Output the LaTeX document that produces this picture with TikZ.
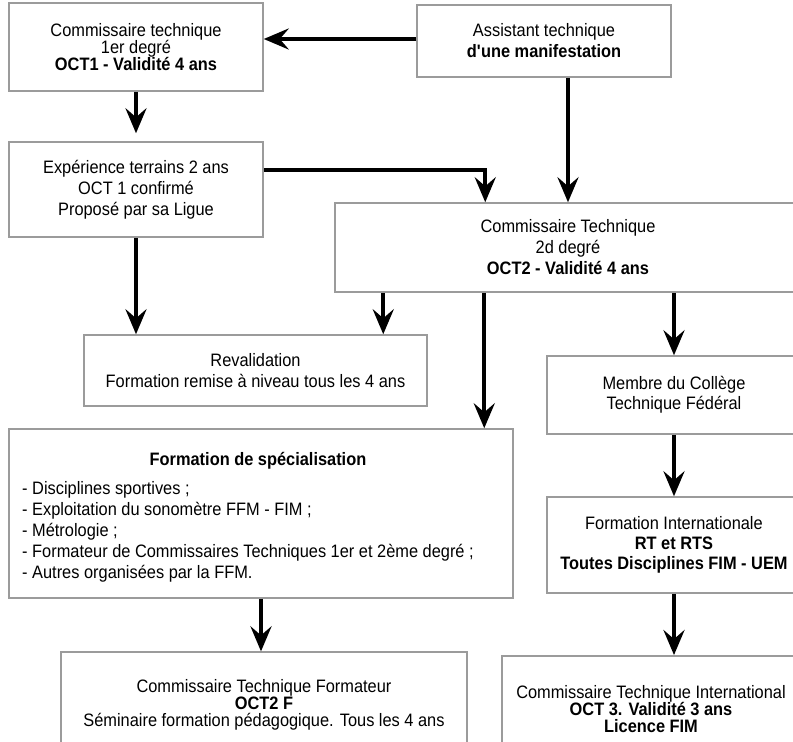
\documentclass[tikz,border=0pt]{standalone}
\usepackage{fontspec}
\setmainfont{Liberation Sans}[FakeStretch=0.91]
\usetikzlibrary{arrows.meta}
\definecolor{boxgray}{RGB}{155,155,155}
\newcommand\fsWide{\fontsize{18}{21}\selectfont\lineskiplimit-30pt\relax}
\newcommand\fsTight{\fontsize{18}{17}\selectfont\lineskiplimit-30pt\relax}
\newcommand\fsMid{\fontsize{18}{20}\selectfont\lineskiplimit-30pt\relax}
\begin{document}
\begin{tikzpicture}[x=1pt,y=-1pt,
  box/.style={draw=boxgray, line width=1.5pt, fill=white, inner sep=0pt, align=center,
    font=\fsWide},
  tight/.style={font=\fsTight},
  mid/.style={font=\fsMid},
  plain/.style={inner sep=0pt, font=\fsWide},
  arr/.style={line width=4pt, -{Stealth[length=25pt,width=21pt,inset=9pt]}}]
\useasboundingbox (0,0) rectangle (793,742);
\clip (0,0) rectangle (793,742);

\node[box, tight, minimum width=254pt, minimum height=88pt] (oct1) at (136,47)
  {Commissaire technique\\1er degré\\\textbf{OCT1 - Validité 4 ans}};
\node[box, minimum width=254pt, minimum height=72pt] (assist) at (544,41)
  {Assistant technique\\\textbf{d\textquotesingle une manifestation}};
\node[box, minimum width=254pt, minimum height=95pt] (exp) at (136,189.5)
  {Expérience terrains 2 ans\\OCT 1 confirmé\\Proposé par sa Ligue};
\node[box, minimum width=466pt, minimum height=89pt] (oct2) at (568,247.5)
  {Commissaire Technique\\2d degré\\\textbf{OCT2 - Validité 4 ans}};
\node[box, minimum width=343pt, minimum height=71pt] (reval) at (255.5,370.5)
  {Revalidation\\Formation remise à niveau tous les 4 ans};
\node[box, minimum width=504pt, minimum height=169pt] (form) at (261,513.5) {};
\node[plain, anchor=base] (formtitle) at (258,465) {\textbf{Formation de spécialisation}};
\node[plain, anchor=north west, align=left] (formlist) at (22,481)
  {- Disciplines sportives ;\\- Exploitation du sonomètre FFM - FIM ;\\- Métrologie ;\\- Formateur de Commissaires Techniques 1er et 2ème degré ;\\- Autres organisées par la FFM.};
\node[box, mid, minimum width=254pt, minimum height=78pt] (membre) at (674,395)
  {Membre du Collège\\Technique Fédéral};
\node[box, mid, minimum width=254pt, minimum height=96pt] (fi) at (674,545)
  {Formation Internationale\\\textbf{RT et RTS}\\\textbf{Toutes Disciplines FIM - UEM}};
\node[box, tight, minimum width=406pt, minimum height=105pt] (ctf) at (264,704.6)
  {Commissaire Technique Formateur\\\textbf{OCT2 F}\\Séminaire formation pédagogique. Tous les 4 ans};
\node[box, tight, minimum width=298pt, minimum height=106pt] (cti) at (651,708.8)
  {Commissaire Technique International\\\textbf{OCT 3. Validité 3 ans}\\\textbf{Licence FIM}};

\draw[arr] ([yshift=2pt]assist.west) -- ([yshift=2pt]assist.west -| oct1.east);
\draw[arr, shorten >=8pt] (oct1.south) -- (exp.north);
\draw[arr] (assist.south -| oct2.north) -- (oct2.north);
\draw[arr] ([yshift=19.5pt]exp.east) -| ([xshift=151pt]oct2.north west);
\draw[arr] (exp.south) -- (exp.south |- reval.north);
\draw[arr] ([xshift=49pt]oct2.south west) -- ([xshift=49pt]oct2.south west |- reval.north);
\draw[arr] ([xshift=150pt]oct2.south west) -- ([xshift=150pt]oct2.south west |- form.north);
\draw[arr] (oct2.south -| membre.north) -- (membre.north);
\draw[arr] (form.south) -- (form.south |- ctf.north);
\draw[arr] (membre.south) -- (fi.north);
\draw[arr] (fi.south) -- (fi.south |- cti.north);
\end{tikzpicture}
\end{document}
